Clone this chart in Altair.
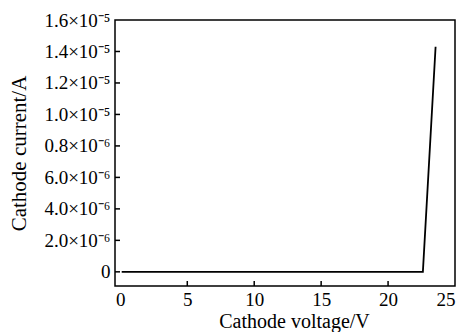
import altair as alt
import pandas as pd

voltage = [0.1, 22.6, 23.55]
current = [0.0, 0.0, 1.43e-5]
x_tick_values = [0, 5, 10, 15, 20, 25]
x_inner_ticks = [5, 10, 15, 20]
y_tick_values = [0, 2e-6, 4e-6, 6e-6, 8e-6, 1.0e-5, 1.2e-5, 1.4e-5, 1.6e-5]
y_tick_labels = ["0", "2.0×10⁻⁶", "4.0×10⁻⁶", "6.0×10⁻⁶", "0.8×10⁻⁶",
                 "1.0×10⁻⁵", "1.2×10⁻⁵", "1.4×10⁻⁵", "1.6×10⁻⁵"]
y_inner_ticks = y_tick_values[:-1]

W, H = 340, 266
FONT = "Liberation Serif"
xs = alt.Scale(domain=[-0.4, 25], nice=False, zero=False)
ys = alt.Scale(domain=[-0.9e-6, 1.6e-5], nice=False, zero=False)

label_expr = "[" + ",".join("'" + s + "'" for s in y_tick_labels) + "][round(datum.value / 2e-6)]"

x_axis = alt.Axis(values=x_tick_values, format="d", ticks=False, domain=False,
                  grid=False, labelPadding=4, titleFontSize=20,
                  titleX=179, titleY=41, titleBaseline="alphabetic")
y_axis = alt.Axis(values=y_tick_values, labelExpr=label_expr, ticks=False,
                  domain=False, grid=False, labelPadding=5, titlePadding=14, titleFontSize=21)
XT = "Cathode voltage/V"
YT = "Cathode current/A"

df = pd.DataFrame({"v": voltage, "i": current})
line = alt.Chart(df).mark_line(color="black", strokeWidth=1.8).encode(
    x=alt.X("v:Q", scale=xs, title=XT, axis=x_axis),
    y=alt.Y("i:Q", scale=ys, title=YT, axis=y_axis),
)

xt = alt.Chart(pd.DataFrame({"t": x_inner_ticks})).mark_rule(color="black", strokeWidth=1.5).encode(
    x=alt.X("t:Q", scale=xs, title=XT, axis=x_axis),
    y=alt.value(H),
    y2=alt.value(H - 5),
)
yt = alt.Chart(pd.DataFrame({"t": y_inner_ticks})).mark_rule(color="black", strokeWidth=1.5).encode(
    y=alt.Y("t:Q", scale=ys, title=YT, axis=y_axis),
    x=alt.value(0),
    x2=alt.value(5),
)

chart = alt.layer(line, xt, yt).properties(
    width=W, height=H,
    autosize=alt.AutoSizeParams(type="none"),
    padding={"left": 107, "top": 12, "right": 4, "bottom": 46},
).configure_view(stroke="black", strokeWidth=1.5).configure_axis(
    labelFont=FONT, titleFont=FONT, labelFontSize=19,
    labelColor="black", titleColor="black", titleFontWeight="normal",
)

chart.save("out.html", embed_options={"renderer": "svg", "actions": False})
